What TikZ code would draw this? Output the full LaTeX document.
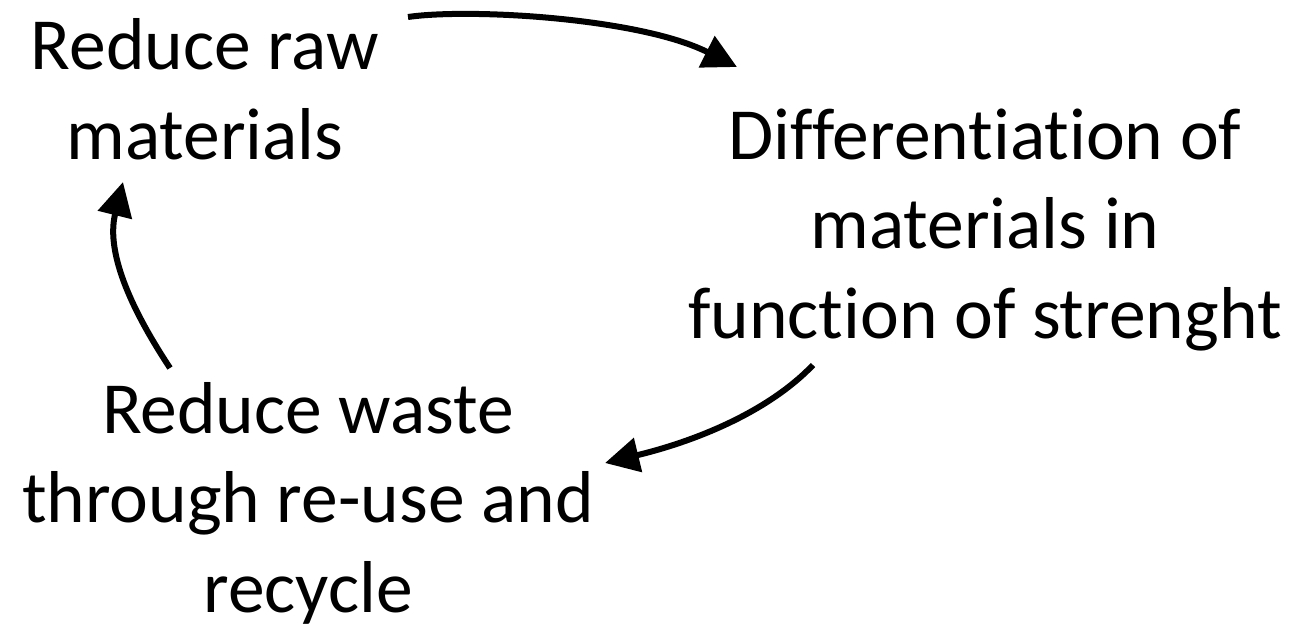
\documentclass[tikz,border=0pt]{standalone}
\usepackage{fontspec}
\setmainfont{Carlito}[Ligatures=NoCommon]
\usetikzlibrary{arrows.meta}
\begin{document}
\begin{tikzpicture}[x=0.01cm,y=-0.01cm,
  lbl/.style={align=center,anchor=base,inner sep=0pt,font=\fontsize{20.9pt}{25.4pt}\selectfont},
  cyc/.style={line width=0.06cm,-{Triangle[length=0.34cm,width=0.34cm]}}]
\useasboundingbox (0,0) rectangle (1296,627);
\node[lbl] (raw) at (205,159) {Reduce raw\\materials};
\node[lbl] (diff) at (985,338) {Differentiation of\\materials in\\function of strenght};
\node[lbl] (waste) at (308,612) {Reduce waste\\through re-use and\\recycle};
\coordinate (s1) at (408,17);
\coordinate (e1) at (737,67);
\coordinate (s2) at (813,365);
\coordinate (e2) at (605,463);
\coordinate (s3) at (170,368);
\coordinate (e3) at (123,182);
\draw[cyc] (s1) .. controls (470,8) and (640,18) .. (e1);
\draw[cyc] (s2) .. controls (770,410) and (700,440) .. (e2);
\draw[cyc] (s3) .. controls (135,315) and (105,255) .. (e3);
\end{tikzpicture}
\end{document}
